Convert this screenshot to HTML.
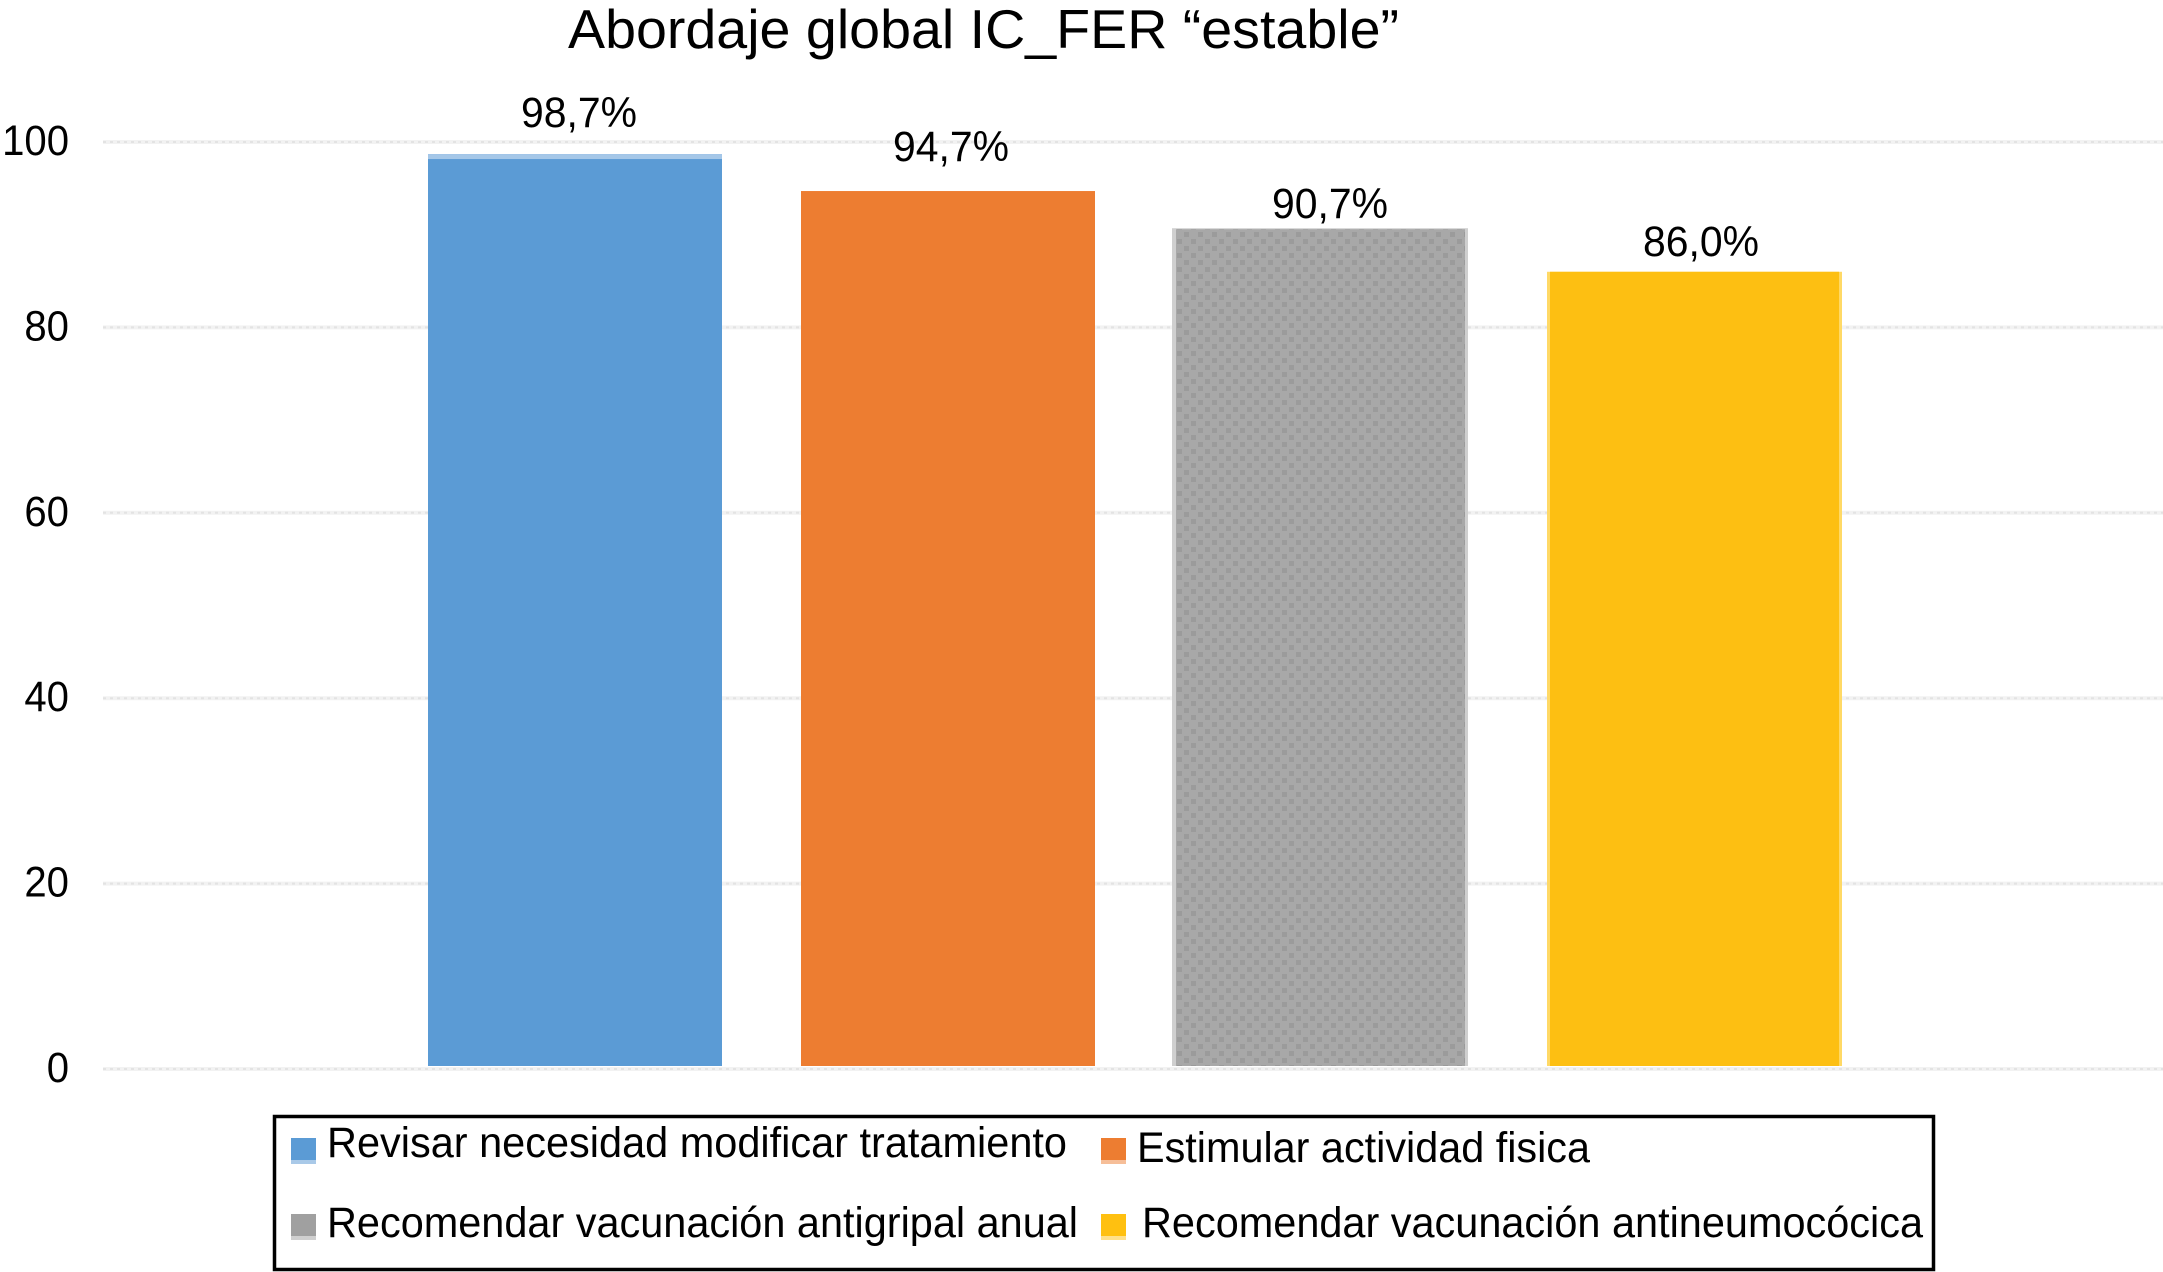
<!DOCTYPE html>
<html lang="es">
<head>
<meta charset="utf-8">
<title>Abordaje global IC_FER "estable"</title>
<style>
html,body{margin:0;padding:0;background:#fff;width:2163px;height:1272px;overflow:hidden}
svg{display:block}
text{font-family:"Liberation Sans",Arial,sans-serif;fill:#000}
</style>
</head>
<body>
<svg id="chart" xmlns="http://www.w3.org/2000/svg" width="2163" height="1272" viewBox="0 0 2163 1272">
  <defs>
    <pattern id="gray-dots" width="14" height="14" patternUnits="userSpaceOnUse">
      <rect width="14" height="14" fill="#a8a8a8"/>
      <rect x="1" y="1" width="5" height="5" fill="#9b9b9b"/>
      <rect x="8" y="8" width="5" height="5" fill="#9b9b9b"/>
    </pattern>
  </defs>
  <text x="568" y="48" font-size="55" textLength="831" lengthAdjust="spacingAndGlyphs">Abordaje global IC_FER “estable”</text>
  <g id="grid"></g>
  <g id="ticks"></g>
  <g id="bars"></g>
  <g id="labels"></g>
  <g>
    <rect x="274.5" y="1116.5" width="1659" height="153" fill="#fff" stroke="#000" stroke-width="3.5"/>
    <g>
      <rect x="291" y="1138" width="25" height="22" fill="#5b9bd5"/>
      <rect x="291" y="1160" width="25" height="4" fill="#a9c9e8"/>
      <text x="327" y="1157" font-size="43" textLength="740" lengthAdjust="spacingAndGlyphs">Revisar necesidad modificar tratamiento</text>
    </g>
    <g>
      <rect x="1101" y="1138" width="25" height="22" fill="#ed7d31"/>
      <rect x="1101" y="1160" width="25" height="4" fill="#f6be98"/>
      <text x="1137" y="1162" font-size="43" textLength="453" lengthAdjust="spacingAndGlyphs">Estimular actividad fisica</text>
    </g>
    <g>
      <rect x="291" y="1214" width="25" height="26" fill="#a0a0a0"/>
      <rect x="291" y="1236" width="25" height="4" fill="#cfcfcf"/>
      <text x="327" y="1237" font-size="43" textLength="751" lengthAdjust="spacingAndGlyphs">Recomendar vacunación antigripal anual</text>
    </g>
    <g>
      <rect x="1101" y="1214" width="25" height="22" fill="#ffc010"/>
      <rect x="1101" y="1236" width="25" height="4" fill="#ffe08a"/>
      <text x="1142" y="1237" font-size="43" textLength="781" lengthAdjust="spacingAndGlyphs">Recomendar vacunación antineumocócica</text>
    </g>
  </g>
</svg>
<script>
const categories = ["revisar", "estimular", "antigripal", "antineumococica"];
const seriesValues = [98.7, 94.7, 90.7, 86.0];
const tickValues = [0, 20, 40, 60, 80, 100];
const fills = ["#5b9bd5", "#ed7d31", "url(#gray-dots)", "#fdbf12"];
const edgeColors = ["#5b9bd5", "#ed7d31", "#cfcfcf", "#ffd966"];
const labelShiftX = [4, 3, 9, 7];
const labelLift = [27, 30, 10, 16];

const NS = "http://www.w3.org/2000/svg";
const axisBottom = 1069;
const pxPerUnit = 9.27;
const barBottomInset = 3;
const bandStart = 428;
const bandStep = 373;
const barWidth = 294;
const plotLeft = 103;
const plotRight = 2163;

function yScale(v) { return axisBottom - v * pxPerUnit; }
function xScale(i) { return bandStart + i * bandStep; }
function make(tag, attrs) {
  const el = document.createElementNS(NS, tag);
  for (const k in attrs) el.setAttribute(k, attrs[k]);
  return el;
}

const gridG = document.getElementById("grid");
const ticksG = document.getElementById("ticks");
const barsG = document.getElementById("bars");
const labelsG = document.getElementById("labels");

tickValues.forEach(function (t) {
  const y = yScale(t);
  const band = make("line", { x1: plotLeft, x2: plotRight, y1: y, y2: y, stroke: "#f2f2f2", "stroke-width": 4 });
  
  
  gridG.appendChild(band);
  const dots = make("line", { x1: plotLeft, x2: plotRight, y1: y, y2: y, stroke: "#e3e3e3", "stroke-width": 2, "stroke-dasharray": "3 4" });
  
  
  gridG.appendChild(dots);
  const tickText = String(t);
  const label = make("text", { x: 69, y: y + 13, "font-size": 43, "text-anchor": "end", textLength: tickText.length * 22.3, lengthAdjust: "spacingAndGlyphs" });
  
  
  label.textContent = tickText;
  ticksG.appendChild(label);
});

seriesValues.forEach(function (v, i) {
  const x = xScale(i);
  const top = yScale(v);
  const h = yScale(0) - barBottomInset - top;
  const edge = make("rect", { x: i === 2 ? x - 2 : x, y: top, width: i === 2 ? barWidth + 2 : barWidth + (i === 3 ? 1 : 0), height: h, fill: edgeColors[i] });
  
  
  barsG.appendChild(edge);
  const insetL = i === 2 ? 2 : (i === 3 ? 3 : 0);
  const insetR = i === 2 ? 3 : (i === 3 ? 2 : 0);
  const capH = i === 0 ? 5 : (i === 2 ? 1 : 0);
  const bar = make("rect", { x: x + insetL, y: top + capH, width: barWidth - insetL - insetR, height: h - capH, fill: fills[i] });
  
  
  barsG.appendChild(bar);
  if (i === 0) {
    const cap = make("rect", { x: x, y: top, width: barWidth, height: 5, fill: "#a5c7e8" });
    
    
    barsG.appendChild(cap);
  }
  const label = make("text", { x: x + barWidth / 2 + labelShiftX[i], y: top - labelLift[i], "font-size": 43, "text-anchor": "middle", textLength: 116, lengthAdjust: "spacingAndGlyphs" });
  
  
  label.textContent = v.toFixed(1).replace(".", ",") + "%";
  labelsG.appendChild(label);
});
</script>
</body>
</html>
